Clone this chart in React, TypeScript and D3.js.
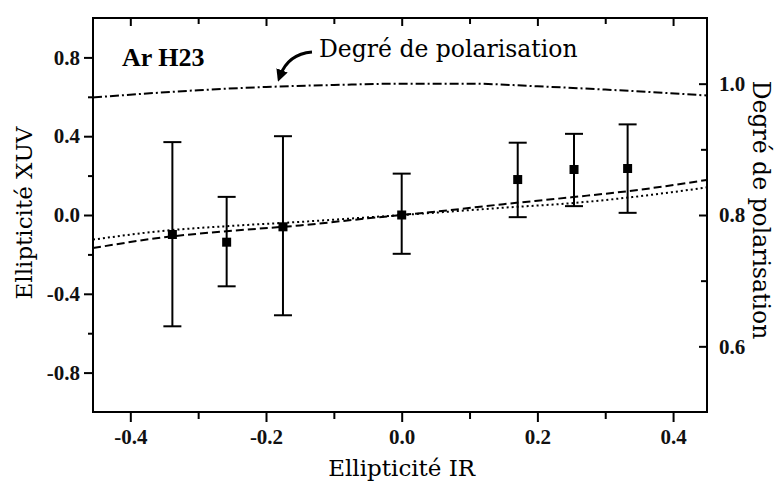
import { useEffect, useRef } from "react";
import * as d3 from "d3";

// measured points (ellipticite IR -> ellipticite XUV, with error bar ends)
const irValues = [-0.338, -0.258, -0.175, 0.0, 0.171, 0.254, 0.333];
const xuvValues = [-0.099, -0.138, -0.06, 0.0, 0.18, 0.231, 0.236];
const xuvUpper = [0.37, 0.092, 0.40, 0.21, 0.367, 0.412, 0.46];
const xuvLower = [-0.565, -0.362, -0.509, -0.197, -0.011, 0.045, 0.011];

// theory curves
const curveIr = [-0.455, -0.35, -0.25, -0.15, -0.05, 0.0, 0.05, 0.15, 0.25, 0.35, 0.45];
const dashedXuv = [-0.168, -0.113, -0.08, -0.053, -0.017, 0.0, 0.017, 0.055, 0.09, 0.128, 0.178];
const dottedXuv = [-0.125, -0.08, -0.055, -0.035, -0.012, 0.0, 0.012, 0.037, 0.06, 0.095, 0.14];

// degree of polarisation (right axis)
const polIr = [-0.455, -0.3, -0.2, -0.1, 0.0, 0.1, 0.2, 0.3, 0.45];
const polValues = [0.979, 0.99, 0.995, 0.998, 1.0, 1.0, 0.996, 0.991, 0.982];

const xMajor = [-0.4, -0.2, 0.0, 0.2, 0.4];
const xMinor = [-0.3, -0.1, 0.1, 0.3];
const yLeftMajor = [0.8, 0.4, 0.0, -0.4, -0.8];
const yLeftMinor = [0.6, 0.2, -0.2, -0.6];
const yRightMajor = [1.0, 0.8, 0.6];
const yRightMinor = [0.9, 0.7];

export default function App() {
  const svgRef = useRef<SVGSVGElement | null>(null);

  useEffect(() => {
    const W = 778, H = 486;
    const margin = { top: 18, right: 71, bottom: 74, left: 93 };
    const width = W - margin.left - margin.right;
    const height = H - margin.top - margin.bottom;

    const svg = d3.select(svgRef.current);
    svg.selectAll("*").remove();
    svg.attr("width", W).attr("height", H);

    const g = svg.append("g").attr("transform", `translate(${margin.left},${margin.top})`);

    const x = d3.scaleLinear().domain([-0.455, 0.45]).range([0, width]);
    const yLeft = d3.scaleLinear().domain([-1, 1]).range([height, 0]);
    const yRight = d3.scaleLinear().domain([0.5, 1.1]).range([height, 0]);

    const tickFont = "Liberation Serif";
    const titleFont = "DejaVu Serif";
    const fmt = (d: d3.NumberValue) => d3.format(".1f")(d as number).replace("\u2212", "-");

    // bottom axis
    const bottom = g.append("g").attr("transform", `translate(0,${height})`);
    bottom.call(d3.axisBottom(x).tickValues(xMajor).tickSize(10).tickFormat(fmt));
    bottom.append("g").call(d3.axisBottom(x).tickValues(xMinor).tickSize(7).tickFormat(() => ""));
    // top axis (inward)
    const top = g.append("g");
    top.call(d3.axisBottom(x).tickValues(xMajor).tickSize(8).tickFormat(() => ""));
    top.append("g").call(d3.axisBottom(x).tickValues(xMinor).tickSize(6).tickFormat(() => ""));
    // left axis
    const left = g.append("g");
    left.call(d3.axisLeft(yLeft).tickValues(yLeftMajor).tickSize(9).tickPadding(4).tickFormat(fmt));
    left.append("g").call(d3.axisLeft(yLeft).tickValues(yLeftMinor).tickSize(5).tickFormat(() => ""));
    // right axis (inward ticks)
    const right = g.append("g").attr("transform", `translate(${width},0)`);
    right.call(d3.axisLeft(yRight).tickValues(yRightMajor).tickSize(8).tickFormat(() => ""));
    right.append("g").call(d3.axisLeft(yRight).tickValues(yRightMinor).tickSize(6).tickFormat(() => ""));
    right.append("g").call(d3.axisRight(yRight).tickValues(yRightMajor).tickSize(0).tickPadding(12).tickFormat(fmt));

    g.selectAll(".domain").remove();
    g.selectAll(".tick line").attr("stroke", "#000").attr("stroke-width", 2);
    g.selectAll(".tick text")
      .style("font-family", tickFont)
      .style("font-weight", "bold")
      .style("font-size", "21px")
      .attr("fill", "#111");
    bottom.selectAll(".tick text").attr("dy", "0.92em");

    // frame
    g.append("rect")
      .attr("width", width).attr("height", height)
      .attr("fill", "none").attr("stroke", "#000").attr("stroke-width", 2);

    // theory curves
    const line = d3.line<[number, number]>().x(d => x(d[0])).y(d => yLeft(d[1])).curve(d3.curveMonotoneX);
    g.append("path")
      .datum(curveIr.map((v, i) => [v, dashedXuv[i]] as [number, number]))
      .attr("fill", "none").attr("stroke", "#000").attr("stroke-width", 2)
      .attr("stroke-dasharray", "8,4").attr("d", line);
    g.append("path")
      .datum(curveIr.map((v, i) => [v, dottedXuv[i]] as [number, number]))
      .attr("fill", "none").attr("stroke", "#000").attr("stroke-width", 2)
      .attr("stroke-dasharray", "2,3").attr("d", line);

    const polLine = d3.line<[number, number]>().x(d => x(d[0])).y(d => yRight(d[1])).curve(d3.curveMonotoneX);
    g.append("path")
      .datum(polIr.map((v, i) => [v, polValues[i]] as [number, number]))
      .attr("fill", "none").attr("stroke", "#000").attr("stroke-width", 2)
      .attr("stroke-dasharray", "9,3,2,3").attr("d", polLine);

    // error bars
    const pts = irValues.map((v, i) => ({ ir: v, xuv: xuvValues[i], hi: xuvUpper[i], lo: xuvLower[i] }));
    const capW = 9;
    const bars = g.append("g").selectAll("g").data(pts).join("g");
    bars.append("line")
      .attr("x1", d => x(d.ir)).attr("x2", d => x(d.ir))
      .attr("y1", d => yLeft(d.hi)).attr("y2", d => yLeft(d.lo))
      .attr("stroke", "#000").attr("stroke-width", 2);
    bars.append("line")
      .attr("x1", d => x(d.ir) - capW).attr("x2", d => x(d.ir) + capW)
      .attr("y1", d => yLeft(d.hi)).attr("y2", d => yLeft(d.hi))
      .attr("stroke", "#000").attr("stroke-width", 2);
    bars.append("line")
      .attr("x1", d => x(d.ir) - capW).attr("x2", d => x(d.ir) + capW)
      .attr("y1", d => yLeft(d.lo)).attr("y2", d => yLeft(d.lo))
      .attr("stroke", "#000").attr("stroke-width", 2);
    bars.append("rect")
      .attr("x", d => x(d.ir) - 4.5).attr("y", d => yLeft(d.xuv) - 4.5)
      .attr("width", 9).attr("height", 9).attr("fill", "#000");

    // label
    g.append("text")
      .attr("x", 29).attr("y", 48)
      .attr("font-family", tickFont).attr("font-weight", "bold").attr("font-size", 26)
      .text("Ar H23");

    // annotation + arrow
    svg.append("defs").append("marker")
      .attr("id", "arrowhead").attr("viewBox", "0 0 10 10")
      .attr("refX", 5).attr("refY", 5)
      .attr("markerWidth", 4).attr("markerHeight", 4)
      .attr("orient", "auto-start-reverse")
      .append("path").attr("d", "M0,0 L10,5 L0,10 z").attr("fill", "#000");
    svg.append("path")
      .attr("d", "M312,52 Q288,54 280,76")
      .attr("fill", "none").attr("stroke", "#000").attr("stroke-width", 3)
      .attr("marker-end", "url(#arrowhead)");
    svg.append("text")
      .attr("x", 319).attr("y", 57)
      .attr("font-family", titleFont).attr("font-size", 23.5)
      .text("Degré de polarisation");

    // axis titles
    svg.append("text")
      .attr("x", x(0) + margin.left).attr("y", 476)
      .attr("text-anchor", "middle")
      .attr("font-family", titleFont).attr("font-size", 23)
      .text("Ellipticité IR");
    svg.append("text")
      .attr("transform", `translate(32,${margin.top + height / 2 - 2}) rotate(-90)`)
      .attr("text-anchor", "middle")
      .attr("font-family", titleFont).attr("font-size", 23)
      .text("Ellipticité XUV");
    svg.append("text")
      .attr("transform", `translate(753,${210}) rotate(90)`)
      .attr("text-anchor", "middle")
      .attr("font-family", titleFont).attr("font-size", 23.5)
      .text("Degré de polarisation");
  }, []);

  return <svg ref={svgRef} style={{ position: "absolute", left: 0, top: 0, background: "#fff" }}></svg>;
}
